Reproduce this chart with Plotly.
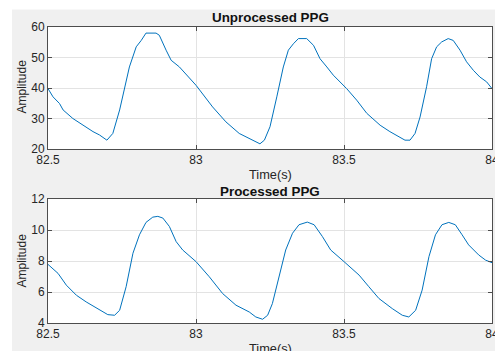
import plotly.graph_objects as go

# Unprocessed PPG (time s, amplitude)
raw_t = [82.5, 82.517, 82.539, 82.551, 82.584, 82.618, 82.652, 82.674, 82.699, 82.719,
         82.742, 82.775, 82.798, 82.815, 82.831, 82.865, 82.876, 82.899, 82.916, 82.944,
         83.0, 83.056, 83.101, 83.146, 83.191, 83.216, 83.231, 83.25, 83.273, 83.295,
         83.312, 83.329, 83.346, 83.374, 83.397, 83.419, 83.442, 83.464, 83.509, 83.543,
         83.577, 83.622, 83.655, 83.689, 83.706, 83.723, 83.74, 83.757, 83.779, 83.796,
         83.813, 83.83, 83.852, 83.869, 83.892, 83.914, 83.937, 83.959, 83.982, 84.0]
raw_y = [39.8, 37.1, 34.9, 32.8, 30.0, 27.8, 25.7, 24.6, 22.9, 25.1,
         32.8, 46.9, 53.5, 55.6, 58.0, 58.0, 57.3, 52.4, 49.1, 46.9,
         40.9, 33.8, 28.9, 25.1, 22.9, 21.7, 22.9, 27.3, 37.1, 46.9,
         52.4, 54.5, 56.2, 56.2, 54.0, 49.6, 46.9, 44.2, 39.8, 36.0,
         31.7, 27.8, 25.7, 24.0, 22.9, 22.9, 25.1, 30.5, 40.4, 49.6,
         53.5, 55.1, 56.2, 55.6, 52.4, 48.6, 45.8, 43.6, 42.0, 39.8]

# Processed PPG
proc_t = [82.5, 82.534, 82.562, 82.596, 82.629, 82.674, 82.702, 82.725, 82.742, 82.764,
          82.787, 82.809, 82.831, 82.854, 82.871, 82.888, 82.91, 82.933, 82.955, 83.0,
          83.045, 83.09, 83.135, 83.18, 83.202, 83.225, 83.242, 83.258, 83.281, 83.303,
          83.326, 83.348, 83.376, 83.399, 83.427, 83.455, 83.5, 83.551, 83.584, 83.618,
          83.663, 83.697, 83.719, 83.742, 83.764, 83.787, 83.809, 83.831, 83.854, 83.876,
          83.899, 83.921, 83.955, 83.978, 84.0]
proc_y = [7.78, 7.2, 6.44, 5.79, 5.36, 4.82, 4.54, 4.5, 4.82, 6.34,
          8.5, 9.69, 10.49, 10.83, 10.88, 10.77, 10.23, 9.25, 8.71, 7.96,
          6.98, 5.9, 5.15, 4.71, 4.39, 4.24, 4.5, 5.25, 6.98, 8.71,
          9.79, 10.34, 10.51, 10.34, 9.58, 8.71, 7.96, 7.09, 6.34, 5.58,
          4.93, 4.5, 4.39, 4.82, 6.12, 8.28, 9.69, 10.34, 10.49, 10.34,
          9.69, 9.04, 8.39, 8.06, 7.89]

x_ticks = [82.5, 83, 83.5, 84]
x_ticklabels = ["82.5", "83", "83.5", "84"]
raw_yticks = [20, 30, 40, 50, 60]
proc_yticks = [4, 6, 8, 10, 12]
titles = ["Unprocessed PPG", "Processed PPG"]
x_title = "Time(s)"
y_title = "Amplitude"

# The page body keeps its default 8px margin, so the figure starts 8px into
# the window; positions below are given in window pixels and shifted.
OFF = 8
W, H = 503 - OFF, 351 - OFF
LINE = "#0072BD"
FONT = "Liberation Sans, Arial, sans-serif"
TXT = "#262626"


def px(p):
    return (p - OFF) / W


def py(p):
    return 1 - (p - OFF) / H


fig = go.Figure()
fig.add_trace(go.Scatter(x=raw_t, y=raw_y, mode="lines", line=dict(color=LINE, width=1),
                         xaxis="x", yaxis="y", showlegend=False, hoverinfo="skip"))
fig.add_trace(go.Scatter(x=proc_t, y=proc_y, mode="lines", line=dict(color=LINE, width=1),
                         xaxis="x2", yaxis="y2", showlegend=False, hoverinfo="skip"))

xd = [px(48), px(492)]
yd1 = [py(149), py(27)]
yd2 = [py(323), py(199)]

common_ax = dict(showline=True, linecolor="#4d4d4d", linewidth=1, mirror="ticks",
                 ticks="inside", ticklen=4, tickcolor="#4d4d4d", automargin=False,
                 showgrid=True, gridcolor="#e3e3e3", gridwidth=1, zeroline=False,
                 tickfont=dict(family=FONT, size=12, color=TXT))


def label(text, x, y, size, angle=0, bold=False, color=TXT):
    return dict(text=("<b>%s</b>" % text) if bold else text, xref="paper", yref="paper",
                x=px(x), y=py(y), showarrow=False, textangle=angle,
                font=dict(family=FONT, size=size, color=color),
                xanchor="center", yanchor="middle")


fig.update_layout(
    width=W, height=H,
    margin=dict(l=0, r=0, t=0, b=0, pad=0),
    paper_bgcolor="#f0f0f0", plot_bgcolor="white",
    font=dict(family=FONT, color=TXT),
    xaxis=dict(domain=xd, anchor="y", range=[82.5, 84], tickvals=x_ticks, ticktext=x_ticklabels, **common_ax),
    yaxis=dict(domain=yd1, anchor="x", range=[20, 60], tickvals=raw_yticks, **common_ax),
    xaxis2=dict(domain=xd, anchor="y2", range=[82.5, 84], tickvals=x_ticks, ticktext=x_ticklabels, **common_ax),
    yaxis2=dict(domain=yd2, anchor="x2", range=[4, 12], tickvals=proc_yticks, **common_ax),
    shapes=[
        dict(type="rect", xref="paper", yref="paper", x0=0, x1=1, y0=py(9.5), y1=1,
             fillcolor="white", line=dict(width=0), layer="below"),
        dict(type="rect", xref="paper", yref="paper", x0=0, x1=px(12), y0=0, y1=1,
             fillcolor="white", line=dict(width=0), layer="below"),
    ],
    annotations=[
        label(titles[0], 270, 17.7, 13.4, bold=True, color="#111111"),
        label(titles[1], 270, 191, 13.4, bold=True, color="#111111"),
        label(x_title, 270.5, 174.5, 12.8),
        label(x_title, 270.5, 348.5, 12.8),
        label(y_title, 21.5, 87, 12, angle=-90),
        label(y_title, 21.5, 261, 12, angle=-90),
    ],
)

fig.write_html("out.html")
